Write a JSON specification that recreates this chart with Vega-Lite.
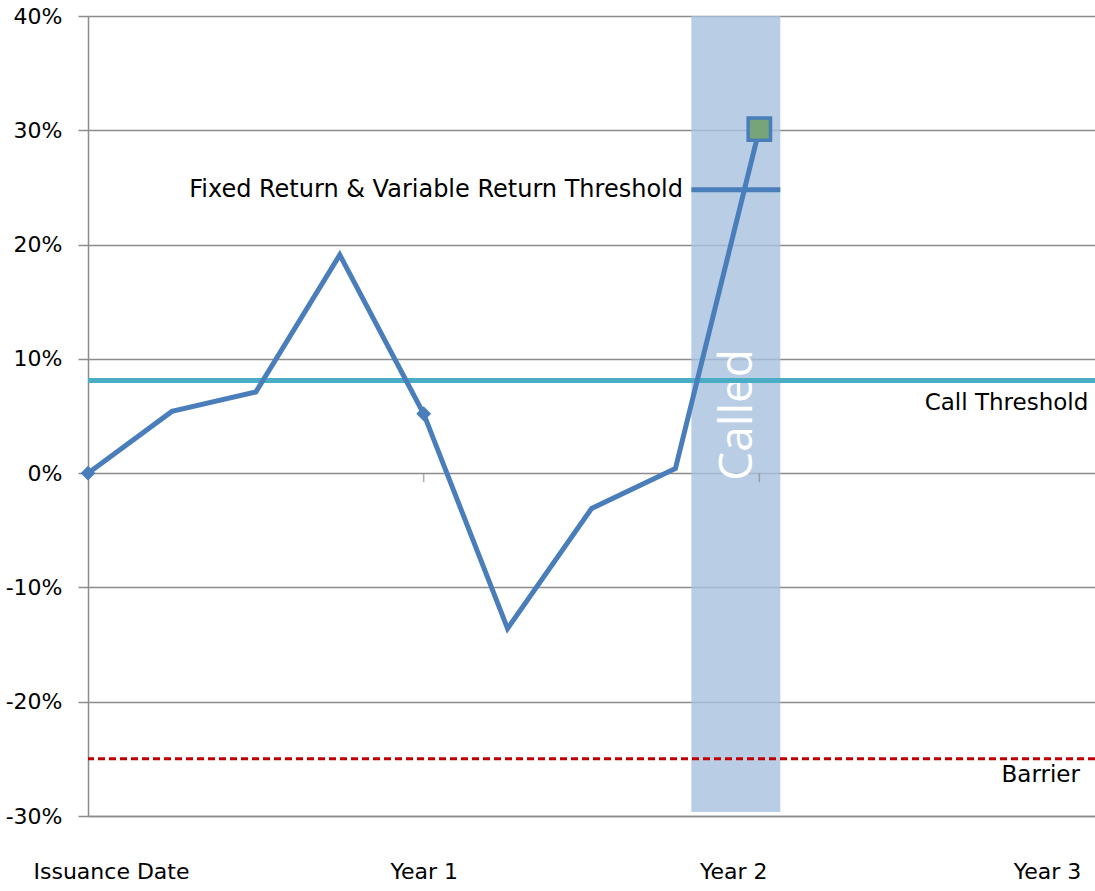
{
  "$schema": "https://vega.github.io/schema/vega-lite/v6.json",
  "width": 1007,
  "height": 800,
  "autosize": {"type": "none"},
  "padding": {"left": 88, "top": 16, "right": 0, "bottom": 75},
  "background": "white",
  "config": {"view": {"stroke": null}, "font": "DejaVu Sans"},
  "datasets": {
    "path": [
      {"q": 0, "v": 0.0},
      {"q": 1, "v": 0.054},
      {"q": 2, "v": 0.071},
      {"q": 3, "v": 0.191},
      {"q": 4, "v": 0.052},
      {"q": 5, "v": -0.136},
      {"q": 6, "v": -0.031},
      {"q": 7, "v": 0.004},
      {"q": 8, "v": 0.301}
    ],
    "band": [{"x": 7.19, "x2": 8.25, "y": 0.4, "y2": -0.2965}],
    "fixed": [{"x": 7.19, "x2": 8.25, "y": 0.248}],
    "fixednote": [{"label": "Fixed Return & Variable Return Threshold", "x": 7.09, "y": 0.248}],
    "notes": [
      {"label": "Call Threshold", "x": 11.92, "y": 0.061},
      {"label": "Barrier", "x": 11.82, "y": -0.264}
    ],
    "called": [{"label": "Called", "x": 7.74, "y": 0.051}],
    "yticks": [{"q": 4, "v": 0}, {"q": 8, "v": 0}]
  },
  "encoding": {
    "x": {
      "field": "q",
      "type": "quantitative",
      "scale": {"domain": [0, 12], "nice": false, "zero": false},
      "axis": {
        "values": [0, 4, 8, 12],
        "title": null,
        "grid": false,
        "ticks": false,
        "domain": true,
        "domainColor": "#8c8c8c",
        "domainWidth": 1.5,
        "labelFontSize": 22,
        "labelColor": "#000000",
        "labelFont": "DejaVu Sans",
        "labelPadding": 45,
        "labelFlush": false,
        "labelOverlap": false,
        "labelBound": false,
        "labelExpr": "datum.value == 0 ? 'Issuance Date' : datum.value == 4 ? 'Year 1' : datum.value == 8 ? 'Year 2' : 'Year 3'",
        "labelOffset": {
          "condition": [
            {"test": "datum.value == 0", "value": 23},
            {"test": "datum.value == 8", "value": -26},
            {"test": "datum.value == 12", "value": -48}
          ],
          "value": 0
        }
      }
    },
    "y": {
      "field": "v",
      "type": "quantitative",
      "scale": {"domain": [-0.3, 0.4], "nice": false, "zero": false},
      "axis": {
        "values": [-0.3, -0.2, -0.1, 0, 0.1, 0.2, 0.3, 0.4],
        "labelExpr": "round(datum.value * 100) + '%'",
        "title": null,
        "grid": true,
        "gridColor": "#8c8c8c",
        "gridWidth": 1.5,
        "domainColor": "#8c8c8c",
        "domainWidth": 1.5,
        "tickColor": "#8c8c8c",
        "tickWidth": 1.5,
        "tickSize": 10,
        "labelFontSize": 22,
        "labelColor": "#000000",
        "labelFont": "DejaVu Sans",
        "labelPadding": 16
      }
    }
  },
  "layer": [
    {
      "data": {"name": "band"},
      "mark": {"type": "rect", "fill": "#a8c1de", "opacity": 0.8},
      "encoding": {
        "x": {"field": "x", "type": "quantitative"},
        "x2": {"field": "x2"},
        "y": {"field": "y", "type": "quantitative"},
        "y2": {"field": "y2"}
      }
    },
    {
      "data": {"name": "called"},
      "mark": {"type": "text", "angle": 270, "fontSize": 46, "font": "Open Sans", "color": "#ffffff", "align": "center", "baseline": "middle"},
      "encoding": {
        "x": {"field": "x", "type": "quantitative"},
        "y": {"field": "y", "type": "quantitative"},
        "text": {"field": "label"}
      }
    },
    {
      "data": {"name": "yticks"},
      "mark": {"type": "tick", "orient": "vertical", "size": 9, "thickness": 1.5, "color": "#8c8c8c", "yOffset": 4.5}
    },
    {
      "data": {"values": [{"v": -0.25}]},
      "mark": {"type": "rule", "color": "#c00000", "strokeWidth": 3, "strokeDash": [7, 4]},
      "encoding": {"x": null}
    },
    {
      "data": {"values": [{"v": 0.081}]},
      "mark": {"type": "rule", "color": "#4bacc6", "strokeWidth": 5},
      "encoding": {"x": null}
    },
    {
      "data": {"name": "fixed"},
      "mark": {"type": "rule", "color": "#4a7ebb", "strokeWidth": 5},
      "encoding": {
        "x": {"field": "x", "type": "quantitative"},
        "x2": {"field": "x2"},
        "y": {"field": "y", "type": "quantitative"}
      }
    },
    {
      "data": {"name": "path"},
      "mark": {"type": "line", "color": "#4a7ebb", "strokeWidth": 5, "strokeJoin": "miter"}
    },
    {
      "data": {"name": "path"},
      "transform": [{"filter": "datum.q == 0 || datum.q == 4"}],
      "mark": {"type": "point", "shape": "diamond", "filled": true, "color": "#4a7ebb", "size": 220, "opacity": 1}
    },
    {
      "data": {"name": "path"},
      "transform": [{"filter": "datum.q == 8"}],
      "mark": {"type": "point", "shape": "square", "filled": true, "fill": "#78a479", "stroke": "#4a7ebb", "strokeWidth": 3.5, "size": 500, "opacity": 1}
    },
    {
      "data": {"name": "fixednote"},
      "mark": {"type": "text", "align": "right", "baseline": "middle", "fontSize": 24, "font": "DejaVu Sans", "color": "#000000"},
      "encoding": {
        "x": {"field": "x", "type": "quantitative"},
        "y": {"field": "y", "type": "quantitative"},
        "text": {"field": "label"}
      }
    },
    {
      "data": {"name": "notes"},
      "mark": {"type": "text", "align": "right", "baseline": "middle", "fontSize": 23, "font": "DejaVu Sans", "color": "#000000"},
      "encoding": {
        "x": {"field": "x", "type": "quantitative"},
        "y": {"field": "y", "type": "quantitative"},
        "text": {"field": "label"}
      }
    }
  ]
}
